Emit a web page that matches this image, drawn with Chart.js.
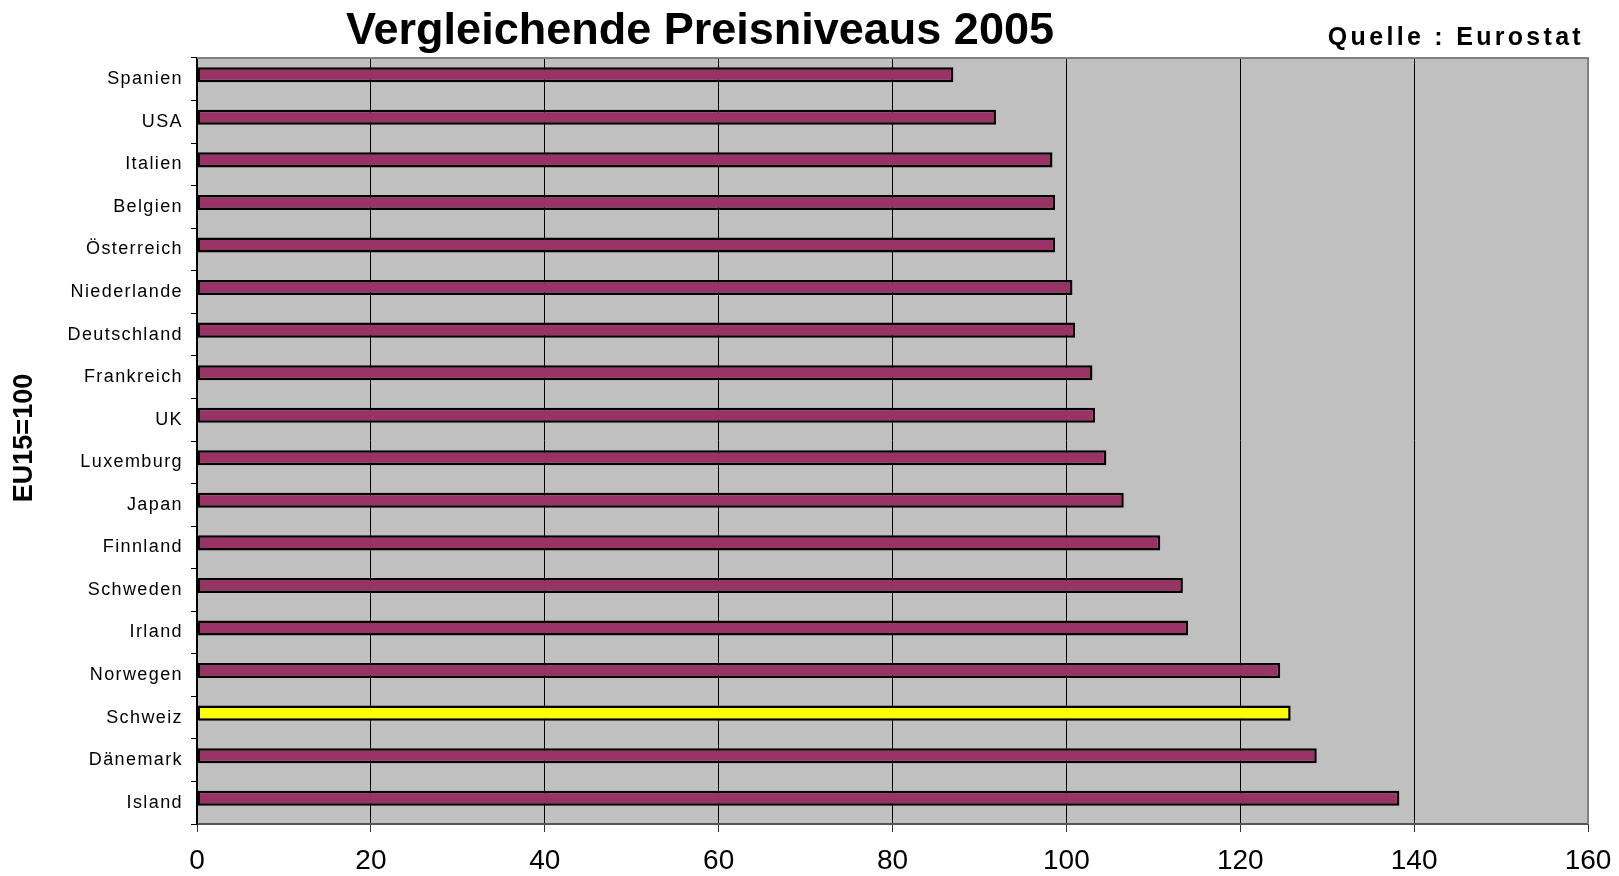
<!DOCTYPE html>
<html>
<head>
<meta charset="utf-8">
<script src="https://cdn.jsdelivr.net/npm/chart.js@4"></script>
<style>
  html, body { margin: 0; padding: 0; background: #fff; }
  #wrap { width: 1619px; height: 876px; }
</style>
</head>
<body>
<div id="wrap"><canvas id="chart" width="1619" height="876"></canvas></div>
<script>
const countries = ["Spanien", "USA", "Italien", "Belgien", "Österreich", "Niederlande", "Deutschland",
    "Frankreich", "UK", "Luxemburg", "Japan", "Finnland", "Schweden", "Irland", "Norwegen",
    "Schweiz", "Dänemark", "Island"];
const priceLevels = [87.0, 91.9, 98.4, 98.7, 98.7, 100.7, 101.0, 103.0, 103.3, 104.6, 106.6,
    110.8, 113.4, 114.0, 124.6, 125.8, 128.8, 138.3];
const highlighted = "Schweiz";
const xTicks = [0, 20, 40, 60, 80, 100, 120, 140, 160];

const FONT = "'Liberation Sans', Arial, sans-serif";
const barColors = countries.map(c => c === highlighted ? "#ffff00" : "#993366");

// grey plot area, titles and a little letter spacing for the category labels
const decoration = {
    id: "decoration",
    beforeDraw(chart) {
        const { ctx, chartArea: a } = chart;
        ctx.save();
        ctx.fillStyle = "#c0c0c0";
        ctx.fillRect(a.left, a.top, a.right - a.left, a.bottom - a.top);
        ctx.restore();
        ctx.letterSpacing = "1.4px";
    },
    beforeDatasetsDraw(chart) {
        chart.ctx.letterSpacing = "0px";
    },
    afterDraw(chart) {
        const { ctx, chartArea: a } = chart;
        ctx.save();
        ctx.strokeStyle = "#808080";
        ctx.lineWidth = 2;
        ctx.beginPath();
        ctx.moveTo(a.left, a.top);
        ctx.lineTo(a.right, a.top);
        ctx.lineTo(a.right, a.bottom);
        ctx.stroke();

        ctx.fillStyle = "#000";
        ctx.letterSpacing = "0px";
        ctx.textBaseline = "alphabetic";
        ctx.textAlign = "center";
        ctx.font = "bold 45px " + FONT;
        ctx.fillText("Vergleichende Preisniveaus 2005", 700, 44);

        ctx.textAlign = "right";
        ctx.letterSpacing = "3.3px";
        ctx.font = "bold 25px " + FONT;
        ctx.fillText("Quelle : Eurostat", 1584, 45);

        ctx.letterSpacing = "0px";
        ctx.translate(25, 438);
        ctx.rotate(-Math.PI / 2);
        ctx.textAlign = "center";
        ctx.textBaseline = "middle";
        ctx.font = "bold 27px " + FONT;
        ctx.fillText("EU15=100", 0, 0);
        ctx.restore();
    }
};

new Chart(document.getElementById("chart"), {
    type: "bar",
    data: {
        labels: countries,
        datasets: [{
            label: "Preisniveau",
            data: priceLevels,
            backgroundColor: barColors,
            borderColor: "#000",
            borderWidth: 2.5,
            borderSkipped: false
        }, {
            // empty second series, keeps the bars sitting above the category centre
            label: "leer",
            data: []
        }]
    },
    options: {
        indexAxis: "y",
        responsive: false,
        animation: false,
        categoryPercentage: 0.423,
        barPercentage: 1.67,
        layout: { padding: { top: 58, right: 31, left: 0, bottom: 0 } },
        plugins: {
            legend: { display: false },
            tooltip: { enabled: false },
            title: { display: false }
        },
        scales: {
            x: {
                min: 0,
                max: 160,
                afterBuildTicks: s => { s.ticks = xTicks.map(v => ({ value: v })); },
                afterFit: s => { s.height = 52; s.paddingRight = 20; },
                grid: { color: "#000", lineWidth: 1, tickLength: 8, tickColor: "#333" },
                border: { color: "#555", width: 2 },
                ticks: { z: 1, color: "#000", padding: 12, font: { family: FONT, size: 28 } }
            },
            y: {
                afterFit: s => { s.width = 197; },
                grid: { drawOnChartArea: false, tickLength: 6, color: "#000" },
                border: { color: "#000", width: 2 },
                ticks: { color: "#000", padding: 8, font: { family: FONT, size: 18 } }
            }
        }
    },
    plugins: [decoration]
});
</script>
</body>
</html>
